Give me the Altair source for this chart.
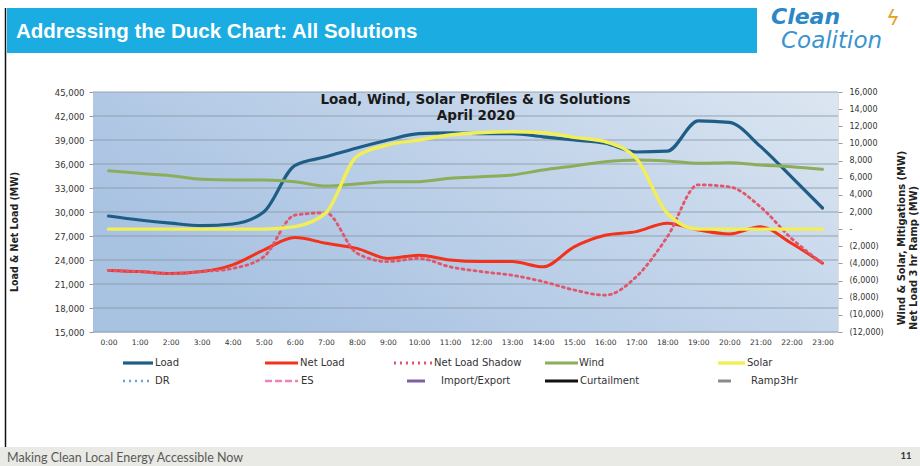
import altair as alt
import pandas as pd

# ---------------------------------------------------------------- data
hours = ["0:00", "1:00", "2:00", "3:00", "4:00", "5:00", "6:00", "7:00",
         "8:00", "9:00", "10:00", "11:00", "12:00", "13:00", "14:00", "15:00",
         "16:00", "17:00", "18:00", "19:00", "20:00", "21:00", "22:00", "23:00"]

# Left axis series (MW)
load = [29500, 29000, 28600, 28300, 28500, 30000, 35800, 36900,
        38000, 39000, 39800, 39900, 39800, 39800, 39400, 39000,
        38600, 37500, 37600, 41400, 41200, 38200, 34400, 30500]
net_load = [22700, 22550, 22300, 22550, 23400, 25250, 26800, 26100,
            25450, 24200, 24600, 24000, 23800, 23800, 23150, 25650,
            27100, 27550, 28600, 27750, 27250, 28150, 26100, 23600]
net_load_shadow = [22700, 22550, 22300, 22550, 22950, 24400, 29600, 29900,
                   24850, 23800, 24200, 23150, 22550, 22100, 21300, 20250,
                   19600, 21900, 26900, 33400, 33150, 30650, 26700, 23600]

# Right axis series (MW)
wind = [6820, 6510, 6240, 5810, 5730, 5730, 5540, 5030,
        5270, 5540, 5540, 5930, 6120, 6320, 6900, 7370,
        7870, 8070, 7950, 7680, 7750, 7480, 7290, 6980]
solar = [0, 0, 0, 0, 0, 0, 290, 1900,
         8500, 9820, 10400, 10980, 11250, 11370, 11250, 10710,
         10200, 8260, 1850, 0, 0, 0, 0, 0]

left_ticks = [15000, 18000, 21000, 24000, 27000, 30000, 33000, 36000, 39000, 42000, 45000]
right_ticks = [-12000, -10000, -8000, -6000, -4000, -2000, 0, 2000, 4000,
               6000, 8000, 10000, 12000, 14000, 16000]

legend_row1 = ["Load", "Net Load", "Net Load Shadow", "Wind", "Solar"]
legend_row2 = ["DR", "ES", "Import/Export", "Curtailment", "Ramp3Hr"]

# ---------------------------------------------------------------- layout
PX, PY = 93, 92          # plot origin on the page
W, H = 745, 240          # plot size
FONT = "DejaVu Sans"
NARROW = "Liberation Sans Narrow, DejaVu Sans Condensed, Liberation Sans"


def rx(x):
    return x - PX


def ry(y):
    return y - PY


one = pd.DataFrame({"k": [0]})

STYLE = {
    "Load": dict(color="#1E5E86", dash=None, width=3.2),
    "Net Load": dict(color="#F3321B", dash=None, width=3.0),
    "Net Load Shadow": dict(color="#E0566A", dash=[2, 4], width=2.8),
    "Wind": dict(color="#8CAD5A", dash=None, width=3.0),
    "Solar": dict(color="#F2EE55", dash=None, width=3.4),
    "DR": dict(color="#6FA3CF", dash=[2, 4], width=2.6),
    "ES": dict(color="#EE82B6", dash=[7, 3], width=2.6),
    "Import/Export": dict(color="#7D5FA6", dash=None, width=3.0),
    "Curtailment": dict(color="#111111", dash=None, width=3.0),
    "Ramp3Hr": dict(color="#8A8A8A", dash=None, width=3.0),
}

# legend sample start/end and text start (page x), per column
LEG_COLS_1 = [(123, 153, 155), (265, 298, 300), (394, 432, 434), (545, 578, 579), (718, 745, 747)]
LEG_COLS_2 = [(123, 153, 155), (265, 298, 301), (407, 425, 441), (545, 578, 580), (718, 731, 751)]
LEG_Y = [363, 381]

# ---------------------------------------------------------------- encodings
x_enc = alt.X(
    "hour:O", sort=hours, scale=alt.Scale(type="point", padding=0.5),
    axis=alt.Axis(title=None, labelAngle=0, labelFont=FONT, labelFontSize=7.5,
                  labelColor="#333333", labelPadding=6, ticks=False, domain=False,
                  labelOverlap=False),
)

y_left = alt.Y(
    "value:Q", scale=alt.Scale(domain=[15000, 45000], nice=False, zero=False),
    axis=alt.Axis(values=left_ticks, labelExpr="format(datum.value, ',')", title=None,
                  grid=False, domain=False, tickSize=4, tickColor="#9A9A9A",
                  labelFont=FONT, labelFontSize=8.5, labelColor="#333333", labelPadding=5),
)

right_label = ("datum.value == 0 ? '-' : (datum.value < 0 ? '(' + format(-datum.value, ',') + ')'"
               " : format(datum.value, ','))")
y_right = alt.Y(
    "value:Q", scale=alt.Scale(domain=[-12000, 16000], nice=False, zero=False),
    axis=alt.Axis(values=right_ticks, labelExpr=right_label, title=None, grid=False,
                  domain=False, orient="right", tickSize=4, tickColor="#9A9A9A",
                  labelFont=FONT, labelFontSize=8, labelColor="#333333", labelPadding=7),
)

left_df = pd.DataFrame({
    "hour": hours * 3,
    "series": ["Load"] * 24 + ["Net Load"] * 24 + ["Net Load Shadow"] * 24,
    "value": load + net_load + net_load_shadow,
})
right_df = pd.DataFrame({
    "hour": hours * 2,
    "series": ["Wind"] * 24 + ["Solar"] * 24,
    "value": wind + solar,
})


def series_line(df, name, y_enc):
    st = STYLE[name]
    kw = dict(color=st["color"], strokeWidth=st["width"], interpolate="monotone",
              strokeCap="round", strokeJoin="round")
    if st["dash"]:
        kw["strokeDash"] = st["dash"]
    return (alt.Chart(df).transform_filter(alt.datum.series == name)
            .mark_line(**kw).encode(x=x_enc, y=y_enc))


# plot background gradient
background = alt.Chart(one).mark_rect(
    color=alt.LinearGradient(
        gradient="linear", x1=0, y1=0.5, x2=1, y2=0,
        stops=[alt.GradientStop(color="#A8C2E2", offset=0),
               alt.GradientStop(color="#C2D4EA", offset=0.55),
               alt.GradientStop(color="#DCE6F1", offset=1)]),
).encode(x=alt.value(0), x2=alt.value(W), y=alt.value(0), y2=alt.value(H))

gridlines = alt.Chart(pd.DataFrame({"value": left_ticks})).mark_rule(
    color="#8C98A6", strokeWidth=1, opacity=0.85
).encode(y=y_left, x=alt.value(0), x2=alt.value(W))

left_group = alt.layer(
    gridlines,
    series_line(left_df, "Load", y_left),
    series_line(left_df, "Net Load", y_left),
    series_line(left_df, "Net Load Shadow", y_left),
)
right_group = alt.layer(
    series_line(right_df, "Wind", y_right),
    series_line(right_df, "Solar", y_right),
)


# ---------------------------------------------------------------- page decoration
def text(t, x, y, **kw):
    return alt.Chart(one).mark_text(text=t, **kw).encode(x=alt.value(x), y=alt.value(y))


def box(x0, x1, y0, y1, color):
    return alt.Chart(one).mark_rect(color=color).encode(
        x=alt.value(x0), x2=alt.value(x1), y=alt.value(y0), y2=alt.value(y1))


decor = [
    box(rx(7), rx(757), ry(8), ry(53), "#1BADE2"),
    alt.Chart(one).mark_rule(color="#111111", strokeWidth=1.5).encode(
        x=alt.value(rx(5.5)), y=alt.value(ry(8)), y2=alt.value(ry(447))),
    text("Addressing the Duck Chart: All Solutions", rx(16), ry(31.5), align="left",
         baseline="middle", font="Liberation Sans", fontWeight="bold", fontSize=20.5,
         color="white"),
    text("Clean", rx(771), ry(24), align="left", baseline="alphabetic", font=FONT,
         fontWeight="bold", fontStyle="italic", fontSize=22, color="#2B87C6"),
    text("ϟ", rx(893), ry(19), align="center", baseline="middle", font=FONT,
         fontStyle="italic", fontSize=21, color="#E2A21E"),
    text("Coalition", rx(781), ry(48), align="left", baseline="alphabetic", font=FONT,
         fontStyle="italic", fontSize=23, color="#3A93CF"),
    # chart titles
    text("Load, Wind, Solar Profiles & IG Solutions", rx(475.5), ry(100), align="center",
         baseline="middle", font=FONT, fontWeight="bold", fontSize=13.5, color="#1A1A1A"),
    text("April 2020", rx(476), ry(116), align="center", baseline="middle", font=FONT,
         fontWeight="bold", fontSize=13.5, color="#1A1A1A"),
    # axis titles
    text("Load & Net Load (MW)", rx(15), ry(232), angle=270, align="center",
         baseline="middle", font=NARROW, fontWeight="bold", fontSize=10.5, color="#222222"),
    text("Wind & Solar, Mitigations (MW)", rx(902), ry(238), angle=270, align="center",
         baseline="middle", font=NARROW, fontWeight="bold", fontSize=11, color="#222222"),
    text("Net Load 3 hr Ramp (MW)", rx(913.5), ry(258), angle=270, align="center",
         baseline="middle", font=NARROW, fontWeight="bold", fontSize=11, color="#222222"),
    # footer
    box(rx(0), rx(920), ry(447), ry(466), "#E9E9E5"),
    text("Making Clean Local Energy Accessible Now", rx(7), ry(458), align="left",
         baseline="middle", font="Lato", fontSize=12.5, color="#5A5A5A"),
    text("11", rx(906), ry(456), align="center", baseline="middle", font="Lato",
         fontWeight="bold", fontSize=9.5, color="#333333"),
]

# legend
for row, (names, cols) in enumerate([(legend_row1, LEG_COLS_1), (legend_row2, LEG_COLS_2)]):
    yy = ry(LEG_Y[row])
    for name, (x0, x1, xt) in zip(names, cols):
        st = STYLE[name]
        kw = dict(color=st["color"], strokeWidth=st["width"])
        if st["dash"]:
            kw["strokeDash"] = st["dash"]
        decor.append(alt.Chart(one).mark_rule(**kw).encode(
            x=alt.value(rx(x0)), x2=alt.value(rx(x1)), y=alt.value(yy)))
        decor.append(text(name, rx(xt), yy, align="left", baseline="middle", font=FONT,
                          fontSize=10, color="#333333"))

chart = (
    alt.layer(background, left_group, right_group, *decor)
    .resolve_scale(y="independent")
    .properties(width=W, height=H,
                padding={"left": PX, "top": PY, "right": 920 - PX - W, "bottom": 466 - PY - H},
                autosize=alt.AutoSizeParams(type="none"))
    .configure_view(stroke=None)
    .configure(background="white")
)

chart.save("out.html", embed_options={"renderer": "svg", "actions": False})
